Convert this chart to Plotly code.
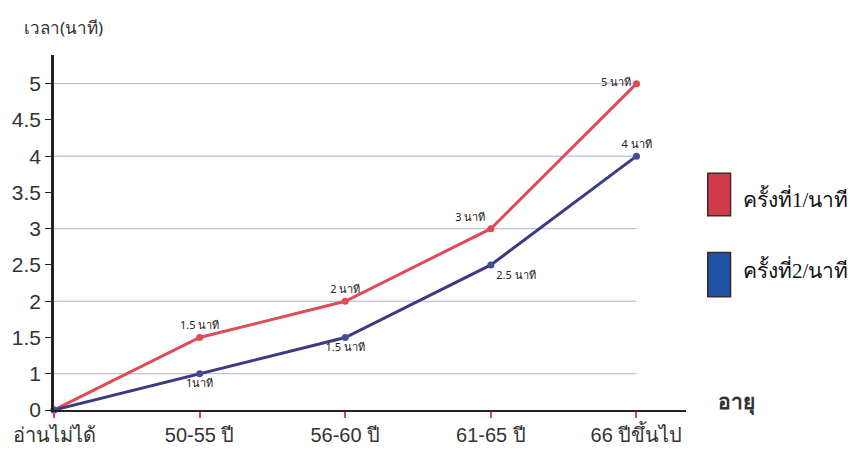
import plotly.graph_objects as go

# Age groups on the x axis
age_groups = ["อ่านไม่ได้", "50-55 ปี", "56-60 ปี", "61-65 ปี", "66 ปีขึ้นไป"]

# Time in minutes for each attempt
first_attempt = [0, 1.5, 2, 3, 5]
second_attempt = [0, 1, 1.5, 2.5, 4]

# Value labels shown next to each point
first_labels = ["", "1.5 นาที", "2 นาที", "3 นาที", "5 นาที"]
second_labels = ["", "1นาที", "1.5 นาที", "2.5 นาที", "4 นาที"]

# Y axis levels (evenly spaced steps)
y_levels = [0, 1, 1.5, 2, 2.5, 3, 3.5, 4, 4.5, 5]
grid_levels = [1, 2, 3, 4, 5]

RED = "#de4c57"
BLUE = "#3a3a85"


def fmt(v):
    return f"{v:g}"


y_cats = [fmt(v) for v in y_levels]

fig = go.Figure()

# Gridlines at whole minutes, running across the category span
for g in grid_levels:
    idx = y_cats.index(fmt(g))
    fig.add_shape(type="line", xref="x", yref="y", x0=0, x1=len(age_groups) - 1,
                  y0=idx, y1=idx, line=dict(color="#aeb0dc", width=1), layer="below")

label_font = dict(size=11, color="#222222", family="Noto Sans, DejaVu Sans, sans-serif")

fig.add_trace(go.Scatter(
    x=age_groups, y=[fmt(v) for v in first_attempt],
    mode="lines+markers+text", name="ครั้งที่1/นาที",
    line=dict(color=RED, width=3), marker=dict(color=RED, size=7),
    text=first_labels,
    textposition=["top center", "top center", "top center", "top left", "middle left"],
    textfont=label_font,
    cliponaxis=False,
))
fig.add_trace(go.Scatter(
    x=age_groups, y=[fmt(v) for v in second_attempt],
    mode="lines+markers+text", name="ครั้งที่2/นาที",
    line=dict(color=BLUE, width=3), marker=dict(color="#4a4a9a", size=7),
    text=second_labels,
    textposition=["bottom center", "bottom center", "bottom center", "bottom right", "top center"],
    textfont=label_font,
    cliponaxis=False,
))

fig.update_xaxes(
    type="category", categoryorder="array", categoryarray=age_groups,
    range=[0, 4.34], showgrid=False, zeroline=False,
    showline=True, linecolor="#222222", linewidth=2,
    ticks="outside", ticklen=6, tickcolor="#e04050", tickwidth=1.5,
    tickfont=dict(size=20, color="#333333", family="Liberation Sans, Noto Sans, sans-serif"),
)
fig.update_yaxes(
    type="category", categoryorder="array", categoryarray=y_cats,
    range=[0, 9.79], showgrid=False, zeroline=False,
    showline=True, linecolor="#222222", linewidth=2.5,
    ticks="outside", ticklen=6, tickcolor="#222222",
    tickfont=dict(size=21, color="#333333", family="Liberation Sans, Arial, sans-serif"),
)

# Axis titles
fig.add_annotation(text="เวลา(นาที)", xref="paper", yref="paper", x=-0.05, y=1.078,
                   xanchor="left", yanchor="middle", showarrow=False,
                   font=dict(size=17, color="#333333", family="Noto Sans, sans-serif"))
fig.add_annotation(text="<b>อายุ</b>", xref="paper", yref="paper", x=1.08, y=0.025,
                   xanchor="center", yanchor="middle", showarrow=False,
                   font=dict(size=21, color="#333333", family="Noto Sans, sans-serif"))

# Legend drawn as tall swatches with serif labels
legend_items = [("ครั้งที่1/นาที", "#d23c48", 0.547, 0.667, 0.597),
                ("ครั้งที่2/นาที", "#1f52a6", 0.319, 0.444, 0.397)]
for label, color, y0, y1, ty in legend_items:
    fig.add_shape(type="rect", xref="paper", yref="paper", x0=1.0344, x1=1.0705,
                  y0=y0, y1=y1, fillcolor=color, line=dict(color="#3a2a2a", width=1.5))
    fig.add_annotation(text=label, xref="paper", yref="paper", x=1.087, y=ty,
                       xanchor="left", yanchor="middle", showarrow=False,
                       font=dict(size=21, color="#111111",
                                 family="Liberation Serif, Noto Serif, serif"))

fig.update_layout(
    width=859, height=458,
    margin=dict(l=47, r=173, t=55, b=43),
    paper_bgcolor="white", plot_bgcolor="white",
    showlegend=False,
)

fig.write_html("out.html")
